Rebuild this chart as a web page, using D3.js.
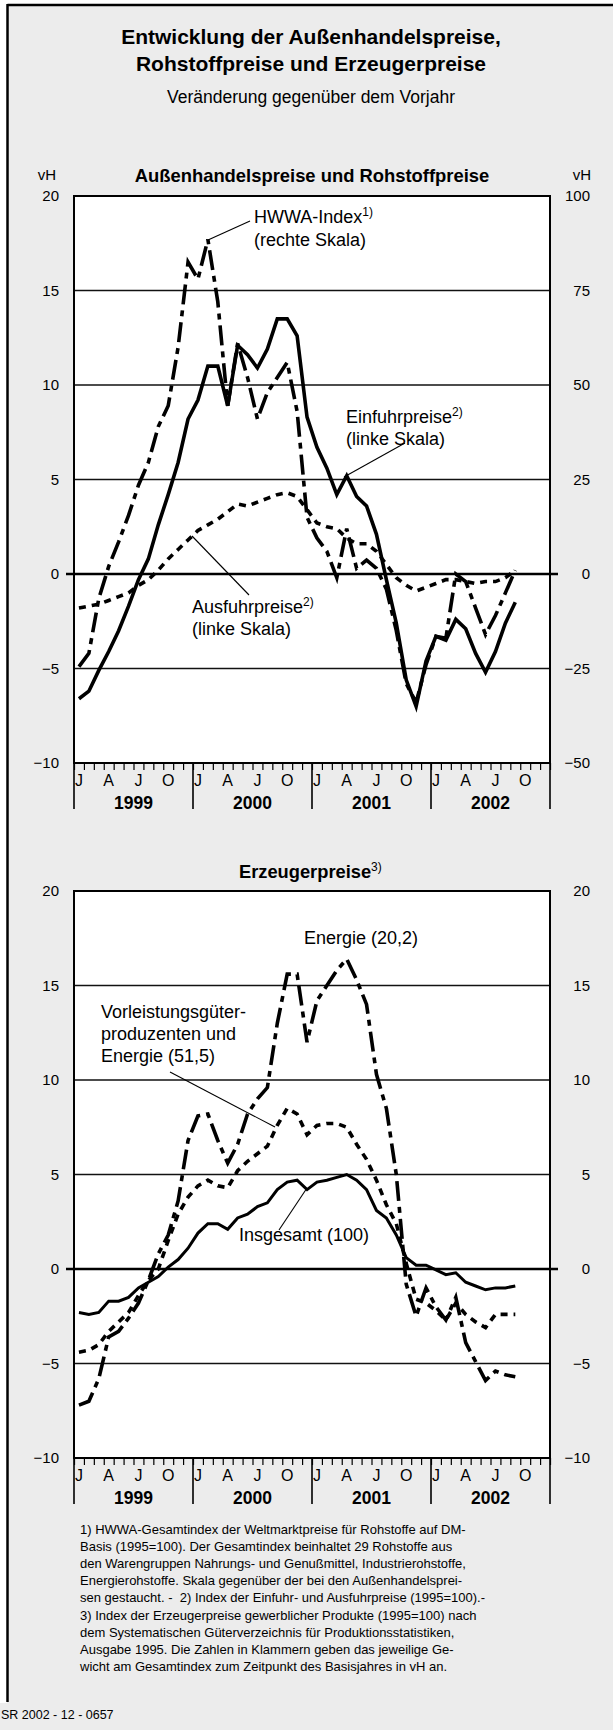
<!DOCTYPE html>
<html><head><meta charset="utf-8">
<script src="https://cdn.jsdelivr.net/npm/d3@7/dist/d3.min.js"></script>
<style>
body{margin:0;background:#fff}
svg{display:block}
text{font-family:"Liberation Sans",Arial,sans-serif;fill:#000}
</style>
</head><body>
<svg id="c" width="613" height="1730"></svg>
<script>
// ---- categories / tick labels ----
const years = ["1999","2000","2001","2002"];
const monthLetters = ["J","","","A","","","J","","","O","",""];
const leftTicks = [-10,-5,0,5,10,15,20];
const rightTicksTop = [-50,-25,0,25,50,75,100];

// ---- series: monthly values Jan 1999 .. Sep 2002 ----
// Außenhandelspreise (vH, linke Skala)
const einfuhr = [-6.6,-6.2,-5.1,-4.1,-3.0,-1.7,-0.3,0.8,2.6,4.2,
  5.9,8.2,9.2,11.0,11.0,8.9,12.1,11.6,10.9,11.9,
  13.5,13.5,12.6,8.3,6.7,5.6,4.2,5.2,4.1,3.6,
  2.1,-0.3,-2.6,-5.6,-7.0,-4.6,-3.3,-3.5,-2.4,-2.9,
  -4.2,-5.2,-4.1,-2.6,-1.5];
const ausfuhr = [-1.8,-1.7,-1.6,-1.4,-1.2,-1.0,-0.6,-0.3,0.2,0.8,
  1.3,1.8,2.3,2.6,2.9,3.3,3.7,3.6,3.8,4.0,
  4.2,4.3,4.1,3.4,2.7,2.5,2.4,1.9,1.6,1.6,
  1.2,0.5,-0.2,-0.6,-0.9,-0.7,-0.5,-0.3,-0.3,-0.4,
  -0.5,-0.4,-0.4,-0.2,0.2];
// HWWA-Index (vH, rechte Skala)
const hwwa = [-24.5,-21,-6.5,2,8.5,15.5,23.5,29.5,39,44.5,
  60,82.5,78,88.5,72,44.5,61,52,41,48,
  52,56,43,15,9.5,6,-1,12,1.5,3.7,
  1.5,-4,-15,-29,-34,-24,-16.5,-17,0,-2,
  -9,-16,-11,-5,1];
// Erzeugerpreise (vH)
const insgesamt = [-2.3,-2.4,-2.3,-1.7,-1.7,-1.5,-1.0,-0.7,-0.4,0.1,
  0.5,1.1,1.9,2.4,2.4,2.1,2.7,2.9,3.3,3.5,
  4.2,4.6,4.7,4.2,4.6,4.7,4.85,5.0,4.7,4.2,
  3.1,2.7,1.8,0.6,0.2,0.2,-0.05,-0.3,-0.2,-0.7,
  -0.9,-1.1,-1.0,-1.0,-0.9];
const vorleistung = [-4.4,-4.3,-4.0,-3.3,-2.8,-2.3,-1.4,-0.6,0.0,1.5,
  2.9,3.8,4.4,4.7,4.4,4.3,5.2,5.7,6.1,6.5,
  7.6,8.5,8.2,7.1,7.6,7.7,7.7,7.5,6.6,5.8,
  4.7,3.4,2.4,0.3,-1.6,-1.8,-2.2,-2.7,-1.8,-2.4,
  -2.8,-3.1,-2.4,-2.4,-2.4];
const energie = [-7.2,-7.0,-5.8,-3.6,-3.3,-2.6,-1.8,-0.6,0.8,1.8,
  3.6,6.8,8.1,8.2,6.8,5.6,6.6,8.2,9.0,9.6,
  13.0,15.6,15.6,12.0,14.2,15.0,15.8,16.4,15.3,14.0,
  10.3,8.5,5.0,-0.8,-2.5,-1.0,-2.0,-2.7,-1.5,-3.9,
  -4.9,-5.9,-5.4,-5.6,-5.7];

const footnotes = [
 "1) HWWA-Gesamtindex der Weltmarktpreise für Rohstoffe auf DM-",
 "Basis (1995=100). Der Gesamtindex beinhaltet 29 Rohstoffe aus",
 "den Warengruppen Nahrungs- und Genußmittel, Industrierohstoffe,",
 "Energierohstoffe. Skala gegenüber der bei den Außenhandelsprei-",
 "sen gestaucht. -  2) Index der Einfuhr- und Ausfuhrpreise (1995=100).-",
 "3) Index der Erzeugerpreise gewerblicher Produkte (1995=100) nach",
 "dem Systematischen Güterverzeichnis für Produktionsstatistiken,",
 "Ausgabe 1995. Die Zahlen in Klammern geben das jeweilige Ge-",
 "wicht am Gesamtindex zum Zeitpunkt des Basisjahres in vH an."
];

const svg = d3.select("#c");
const W = 613, H = 1730;
const FONT = "Liberation Sans, Arial, sans-serif";
// panel background
svg.append("rect").attr("x",7).attr("y",5).attr("width",W-7).attr("height",H-5).attr("fill","#ececec");
svg.append("rect").attr("x",0).attr("y",1703).attr("width",8).attr("height",H-1703).attr("fill","#ececec");
svg.append("line").attr("x1",7.5).attr("x2",W).attr("y1",5).attr("y2",5).attr("stroke","#000").attr("stroke-width",2.5);
svg.append("line").attr("x1",7.5).attr("x2",7.5).attr("y1",4).attr("y2",1702).attr("stroke","#000").attr("stroke-width",2.5);

// titles
svg.append("text").attr("x",311).attr("y",44).attr("text-anchor","middle").attr("font-size",21).attr("font-weight","bold").text("Entwicklung der Außenhandelspreise,");
svg.append("text").attr("x",311).attr("y",70.5).attr("text-anchor","middle").attr("font-size",21).attr("font-weight","bold").text("Rohstoffpreise und Erzeugerpreise");
svg.append("text").attr("x",311).attr("y",102.5).attr("text-anchor","middle").attr("font-size",17.5).text("Veränderung gegenüber dem Vorjahr");

const X0 = 74, X1 = 550;
const x = d3.scaleLinear().domain([0,48]).range([X0,X1]);

function panel(top, bottom, opts){
  const y = d3.scaleLinear().domain([-10,20]).range([bottom, top]);
  const g = svg.append("g");
  g.append("rect").attr("x",X0).attr("y",top).attr("width",X1-X0).attr("height",bottom-top).attr("fill","#fff");
  [5,10,15,-5].forEach(v=>{
    g.append("line").attr("x1",X0).attr("x2",X1).attr("y1",y(v)).attr("y2",y(v)).attr("stroke","#111").attr("stroke-width",1.6);
  });
  const la = d3.axisLeft(y).tickValues(leftTicks).tickSize(0).tickPadding(15).tickFormat(d3.format("d"));
  const lg = g.append("g").attr("transform",`translate(${X0},0)`).call(la);
  lg.select(".domain").remove();
  lg.selectAll("text").attr("font-size",15).attr("font-family",FONT).attr("fill","#000");
  const ry = d3.scaleLinear().domain(opts.rightDomain).range([bottom, top]);
  const ra = d3.axisRight(ry).tickValues(opts.rightTicks).tickSize(0).tickPadding(40).tickFormat(d3.format("d"));
  const rg = g.append("g").attr("transform",`translate(${X1},0)`).call(ra);
  rg.select(".domain").remove();
  rg.selectAll("text").attr("text-anchor","end").attr("font-size",15).attr("font-family",FONT).attr("fill","#000");
  const xa = d3.axisBottom(x).tickValues(d3.range(0,49)).tickSize(7).tickFormat("");
  const xg = g.append("g").attr("transform",`translate(0,${bottom})`).call(xa);
  xg.select(".domain").remove();
  xg.selectAll("line").attr("stroke","#000").attr("stroke-width",1.2);
  d3.range(0,49,12).forEach(m=>{
    g.append("line").attr("x1",x(m)).attr("x2",x(m)).attr("y1",bottom).attr("y2",bottom+46).attr("stroke","#000").attr("stroke-width",1.6);
  });
  d3.range(0,48).forEach(m=>{
    const l = monthLetters[m%12];
    if(l) g.append("text").attr("x",x(m+0.5)).attr("y",bottom+23).attr("text-anchor","middle").attr("font-size",16).text(l);
  });
  years.forEach((yr,k)=>{
    g.append("text").attr("x",x(12*k+6)).attr("y",bottom+45.5).attr("text-anchor","middle").attr("font-size",17.5).attr("font-weight","bold").text(yr);
  });
  g.append("rect").attr("x",X0).attr("y",top).attr("width",X1-X0).attr("height",bottom-top).attr("fill","none").attr("stroke","#000").attr("stroke-width",2);
  g.append("line").attr("x1",X0-8).attr("x2",X1+8).attr("y1",y(0)).attr("y2",y(0)).attr("stroke","#000").attr("stroke-width",2.6);
  return {y, ry, g};
}

function series(g, data, yscale, dash, w){
  const line = d3.line().x((d,i)=>x(i+0.5)).y(d=>yscale(d)).curve(d3.curveLinear);
  g.append("path").datum(data).attr("d",line).attr("fill","none").attr("stroke","#000")
    .attr("stroke-width",w).attr("stroke-dasharray",dash).attr("stroke-linejoin","miter").attr("stroke-linecap","butt");
}
function label(g, xx, yy, lines, sup, lh){
  lines.forEach((t,k)=>{
    const tx = g.append("text").attr("x",xx).attr("y",yy+k*(lh||22)).attr("font-size",18).text(t);
    if(k===0 && sup) tx.append("tspan").attr("dy",-7).attr("font-size",12).text(sup);
  });
}
function leader(g,x1,y1,x2,y2){
  g.append("line").attr("x1",x1).attr("y1",y1).attr("x2",x2).attr("y2",y2).attr("stroke","#000").attr("stroke-width",1.1);
}

// ---- top panel ----
const topT = 196, topB = 763;
const P1 = panel(topT, topB, {rightDomain:[-50,100], rightTicks:rightTicksTop});
svg.append("text").attr("x",312).attr("y",182).attr("text-anchor","middle").attr("font-size",18.4).attr("font-weight","bold").text("Außenhandelspreise und Rohstoffpreise");
svg.append("text").attr("x",47).attr("y",180).attr("text-anchor","middle").attr("font-size",15).text("vH");
svg.append("text").attr("x",582).attr("y",180).attr("text-anchor","middle").attr("font-size",15).text("vH");
series(P1.g, ausfuhr, P1.y, "7,6", 3.6);
series(P1.g, hwwa, P1.ry, "20,6,6,6", 3.6);
series(P1.g, einfuhr, P1.y, null, 3.6);
label(P1.g, 254, 223, ["HWWA-Index","(rechte Skala)"], "1)", 23);
leader(P1.g, 250, 221, 208, 240);
label(P1.g, 346, 423, ["Einfuhrpreise","(linke Skala)"], "2)", 21.5);
leader(P1.g, 405, 443, 344, 477);
label(P1.g, 192, 613, ["Ausfuhrpreise","(linke Skala)"], "2)", 21.5);
leader(P1.g, 192, 536, 249, 595);

// ---- bottom panel ----
const botT = 891, botB = 1458;
const P2 = panel(botT, botB, {rightDomain:[-10,20], rightTicks:leftTicks});
const et = svg.append("text").attr("x",239).attr("y",878).attr("font-size",18.3).attr("font-weight","bold").text("Erzeugerpreise");
et.append("tspan").attr("dy",-7).attr("font-size",12).attr("font-weight","normal").text("3)");
series(P2.g, vorleistung, P2.y, "7,6", 3.6);
series(P2.g, energie, P2.y, "20,6,6,6", 3.6);
series(P2.g, insgesamt, P2.y, null, 3.0);
label(P2.g, 304, 944, ["Energie (20,2)"]);
label(P2.g, 101, 1018, ["Vorleistungsgüter-","produzenten und","Energie (51,5)"], null, 22);
leader(P2.g, 170, 1072, 275, 1127);
label(P2.g, 239, 1241, ["Insgesamt (100)"]);
leader(P2.g, 279, 1230, 307, 1188);

// footnotes
footnotes.forEach((t,k)=>{
  svg.append("text").attr("x",80).attr("y",1534+k*17.1).attr("font-size",13).style("white-space","pre").text(t);
});
svg.append("text").attr("x",1).attr("y",1719).attr("font-size",12.5).text("SR 2002 - 12 - 0657");
</script>
</body></html>
